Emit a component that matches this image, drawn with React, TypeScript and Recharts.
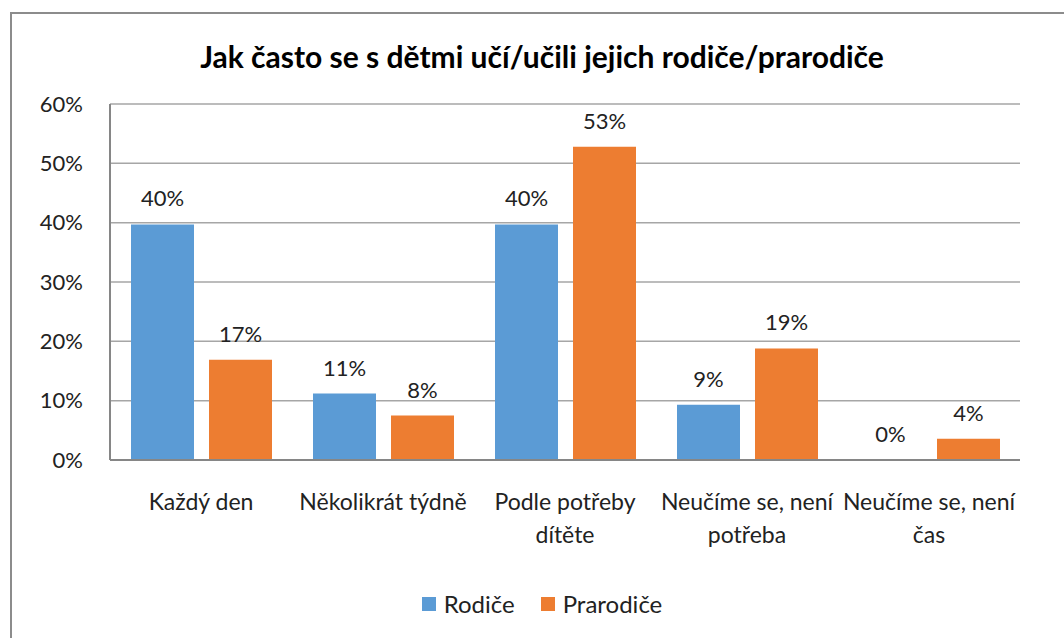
import React from "react";
import { BarChart, Bar, XAxis, YAxis, CartesianGrid, Legend, Rectangle } from "recharts";

const categories = [
  "Každý den",
  "Několikrát týdně",
  "Podle potřeby dítěte",
  "Neučíme se, není potřeba",
  "Neučíme se, není čas",
];
const rodice = [39.7, 11.2, 39.7, 9.3, 0];
const prarodice = [16.9, 7.5, 52.8, 18.8, 3.6];
const yTicks = [0, 10, 20, 30, 40, 50, 60];
const title = "Jak často se s dětmi učí/učili jejich rodiče/prarodiče";
const seriesNames = ["Rodiče", "Prarodiče"];
const colors = ["#5B9BD5", "#ED7D31"];

const data = categories.map((c, i) => ({ name: c, r: rodice[i], p: prarodice[i] }));

const FONT = "Lato, 'Open Sans', sans-serif";

function wrap(s: string, max: number): string[] {
  const words = s.split(" ");
  const lines: string[] = [];
  let cur = "";
  for (const w of words) {
    const t = cur ? cur + " " + w : w;
    if (t.length > max && cur) {
      lines.push(cur);
      cur = w;
    } else cur = t;
  }
  if (cur) lines.push(cur);
  return lines;
}

const CatTick = (props: any) => {
  const { x, y, payload } = props;
  const lines = wrap(payload.value, 17);
  return (
    <text x={x} y={y} textAnchor="middle" fontFamily={FONT} fontSize={23} fill="#222">
      {lines.map((l, i) => (
        <tspan key={i} x={x} dy={i === 0 ? 42 : 33}>
          {l}
        </tspan>
      ))}
    </text>
  );
};

const makeLabel = (key: string) => (props: any) => {
  const { x, y, width, height, index } = props;
  const v = Number(data[index][key as "r" | "p"]);
  const top = v === 0 ? y + height : y;
  return (
    <text x={x + width / 2} y={top - 18} textAnchor="middle" fontFamily={FONT} fontSize={22} fill="#222">
      {`${Math.round(v)}%`}
    </text>
  );
};

const makeShape = (key: string) => (props: any) => {
  const v = Number(props.payload[key]);
  if (v === 0) return <g />;
  return <Rectangle {...props} />;
};

const LegendContent = () => (
  <div style={{ display: "flex", justifyContent: "center", alignItems: "center", fontFamily: FONT, fontSize: 24, color: "#222" }}>
    {seriesNames.map((n, i) => (
      <div key={i} style={{ display: "flex", alignItems: "center", marginLeft: i === 0 ? 0 : 26 }}>
        <div style={{ width: 14, height: 14, background: colors[i], marginRight: 8 }} />
        <span>{n}</span>
      </div>
    ))}
  </div>
);

export default function App() {
  return (
    <div style={{ position: "absolute", left: 0, top: 0, width: 1064, height: 638, overflow: "hidden", background: "#fff" }}>
      <div style={{ position: "absolute", left: 10, top: 12, width: 1100, height: 700, border: "2px solid #8c8c8c" }} />
      <div style={{ position: "absolute", left: 0, top: 38, width: 1084, textAlign: "center", fontFamily: FONT, fontWeight: 700, fontSize: 30, color: "#000" }}>
        {title}
      </div>
      <div style={{ position: "absolute", left: 0, top: 0 }}>
        <BarChart width={1064} height={638} data={data} margin={{ top: 104, right: 44, left: 10, bottom: 78 }} barGap={15} barSize={63}>
          <CartesianGrid vertical={false} stroke="#a6a6a6" strokeWidth={1.5} />
          <XAxis dataKey="name" tick={<CatTick />} tickLine={false} axisLine={{ stroke: "#868686", strokeWidth: 2 }} height={100} interval={0} />
          <YAxis
            domain={[0, 60]}
            ticks={yTicks}
            tickFormatter={(v: number) => `${v}%`}
            tick={{ fontFamily: FONT, fontSize: 22, fill: "#222" }}
            tickLine={false}
            tickSize={0}
            tickMargin={27}
            axisLine={{ stroke: "#868686", strokeWidth: 2 }}
            width={100}
            interval={0}
          />
          <Legend
            verticalAlign="middle"
            align="center"
            layout="horizontal"
            content={<LegendContent />}
            wrapperStyle={{ top: 589, left: 0, width: 1084 }}
          />
          <Bar dataKey="r" name={seriesNames[0]} fill={colors[0]} isAnimationActive={false} minPointSize={1} shape={makeShape("r")} label={makeLabel("r")} />
          <Bar dataKey="p" name={seriesNames[1]} fill={colors[1]} isAnimationActive={false} shape={makeShape("p")} label={makeLabel("p")} />
        </BarChart>
      </div>
    </div>
  );
}
